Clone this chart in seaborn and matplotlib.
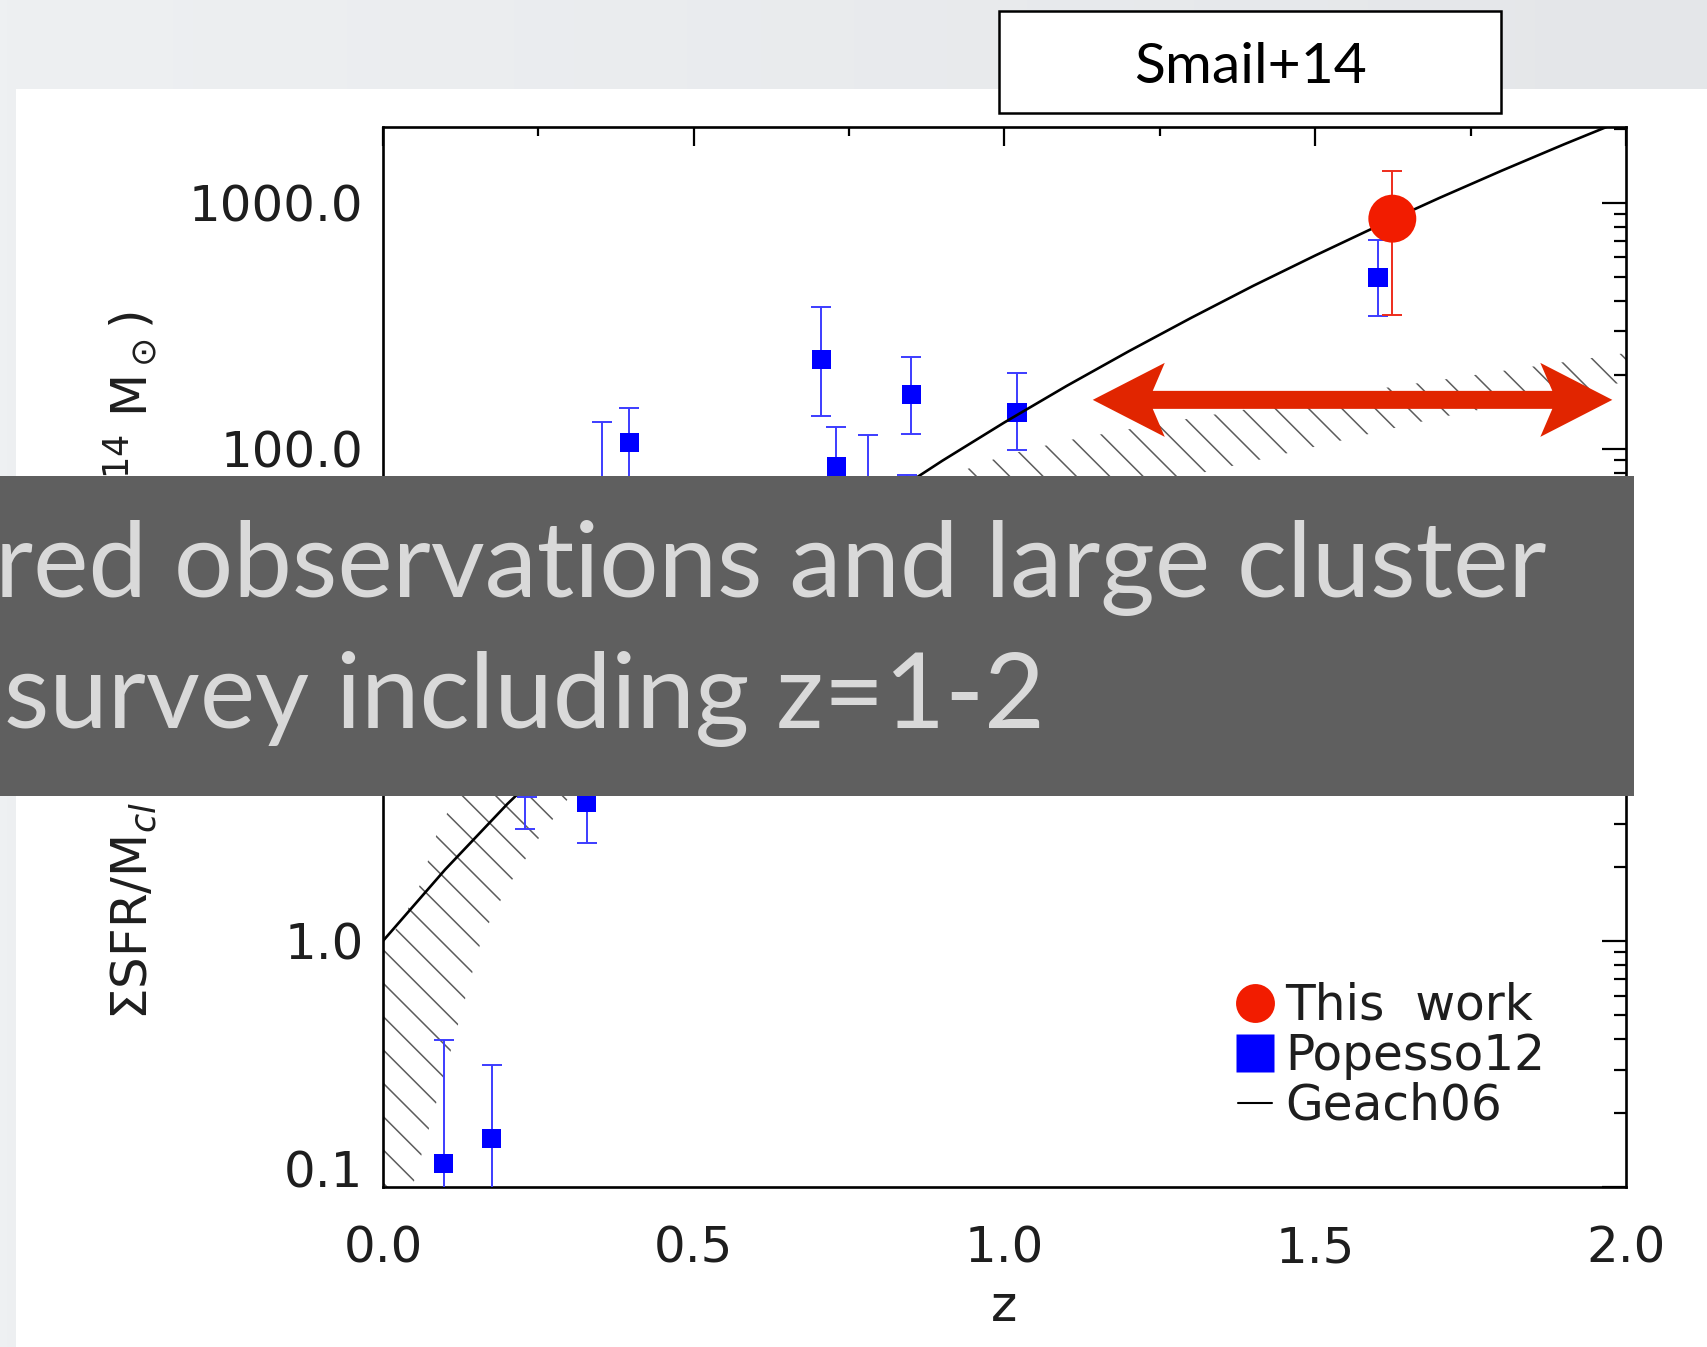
import numpy as np
import pandas as pd
import matplotlib
matplotlib.use("Agg")
import matplotlib.pyplot as plt
import seaborn as sns
from matplotlib.patches import Rectangle, Polygon
from matplotlib.lines import Line2D
from matplotlib.transforms import IdentityTransform
from matplotlib.colors import LinearSegmentedColormap
from matplotlib.ticker import MultipleLocator, LogLocator, NullFormatter

# ---------------- data ----------------
# This work (cluster at z~1.6)
this_z = [1.624]
this_sfr = [861.0]
this_lo = [351.0]
this_hi = [1349.0]

# Popesso12 clusters
pop_z = [0.098, 0.175, 0.228, 0.232, 0.328, 0.352, 0.396, 0.705, 0.729, 0.780, 0.843, 0.850, 1.020, 1.601]
pop_sfr = [0.125, 0.157, 6.0, 9.0, 3.64, 40.0, 106.0, 231.0, 84.5, 55.0, 45.0, 166.0, 140.0, 496.0]
pop_lo = [0.05, 0.05, 2.85, 3.85, 2.50, 15.0, 60.0, 136.0, 50.0, 25.0, 25.0, 115.0, 99.0, 347.0]
pop_hi = [0.396, 0.313, 10.0, 15.0, 5.5, 128.0, 147.0, 378.0, 123.0, 114.0, 78.0, 237.0, 204.0, 707.0]

# Geach06 evolution curve
geach_z = [0.0, 0.1, 0.2, 0.3, 0.4, 0.5, 0.6, 0.7, 0.8, 0.9, 1.0,
           1.1, 1.2, 1.3, 1.4, 1.5, 1.6, 1.7, 1.8, 1.9, 2.0]
geach_sfr = [1.0, 1.95, 3.6, 6.3, 10.5, 17.1, 26.8, 41.0, 61.2, 89.4, 128.0,
             180.0, 249.0, 340.0, 459.0, 610.0, 803.0, 1046.0, 1349.0, 1725.0, 2187.0]

# hatched model band
band_z = [0.0, 0.03, 0.06, 0.09, 0.12, 0.16, 0.2, 0.25, 0.3, 0.4, 0.5, 0.6, 0.7, 0.8, 0.9,
          1.0, 1.1, 1.2, 1.3, 1.4, 1.5, 1.6, 1.7, 1.8, 1.9, 2.0]
band_lo = [0.04, 0.07, 0.13, 0.24, 0.45, 1.05, 1.65, 2.6, 3.85, 6.8, 11.0, 16.6, 24.0, 32.0, 42.0,
           51.0, 60.0, 69.0, 78.0, 89.0, 102.0, 117.0, 134.0, 150.0, 168.0, 187.0]
band_hi = [0.95, 1.2, 1.7, 2.9, 3.9, 5.5, 7.4, 10.0, 12.9, 19.5, 27.5, 36.0, 47.0, 60.0, 76.0,
           94.0, 108.0, 120.0, 133.0, 146.0, 160.0, 175.0, 190.0, 207.0, 225.0, 245.0]

x_ticks = [0.0, 0.5, 1.0, 1.5, 2.0]
x_labels = ["0.0", "0.5", "1.0", "1.5", "2.0"]
y_ticks = [0.1, 1.0, 10.0, 100.0, 1000.0]
y_labels = ["0.1", "1.0", "10.0", "100.0", "1000.0"]

legend_labels = ["This  work", "Popesso12", "Geach06"]
arrow_z = [1.142, 1.978]
arrow_level = 158.0

caption_lines = ["red observations and large cluster", "survey including z=1-2"]

# ---------------- style ----------------
W, H, DPI = 1708, 1347, 100
RED = "#f21c00"
RED_ERR = "#ee2c1c"
BLUE = "#0000ff"
BLUE_ERR = "#3c3cff"
INK = "#1e1e1e"
FS = 36

sns.set_theme(style="white")
plt.rcParams.update({
    "font.family": ["DejaVu Sans"],
    "mathtext.fontset": "dejavusans",
    "hatch.linewidth": 1.1,
    "hatch.color": "#5c5c5c",
    "axes.edgecolor": "black",
    "xtick.color": "black",
    "ytick.color": "black",
})
SLIDE_FONT = ["Lato", "DejaVu Sans"]

fig = plt.figure(figsize=(W / DPI, H / DPI), dpi=DPI)
fig.patch.set_facecolor("#e8eaed")

# slide background with a soft grey gradient
bg = fig.add_axes([0, 0, 1, 1], zorder=-10)
grad = np.linspace(0, 1, 256).reshape(1, -1)
bg.imshow(grad, extent=[0, 1, 0, 1], aspect="auto",
          cmap=LinearSegmentedColormap.from_list("slide", ["#eef0f2", "#e4e6e9"]))
bg.set_axis_off()

# white panel of the figure image
fig.add_artist(Rectangle((16 / W, 0), 1 - 16 / W, 1 - 89 / H, transform=fig.transFigure,
                         facecolor="white", edgecolor="none", zorder=-5))

ax = fig.add_axes([383 / W, 1 - 1187 / H, 1243 / W, 1060 / H])
ax.set_facecolor("white")
ax.set_yscale("log")

# model band
ax.fill_between(band_z, band_lo, band_hi, facecolor="none", edgecolor="#5c5c5c",
                hatch="\\", linewidth=0, zorder=1)

# Popesso12 points
pop_sfr_a = np.array(pop_sfr)
ax.errorbar(pop_z, pop_sfr, yerr=[pop_sfr_a - np.array(pop_lo), np.array(pop_hi) - pop_sfr_a],
            fmt="none", ecolor=BLUE_ERR, elinewidth=1.4, capsize=7, capthick=1.4, zorder=3)
sns.scatterplot(x=pop_z, y=pop_sfr, marker="s", s=190, color=BLUE, edgecolor="none",
                linewidth=0, ax=ax, zorder=4, legend=False)

# Geach06 curve
sns.lineplot(x=geach_z, y=geach_sfr, color="black", linewidth=1.9, ax=ax, zorder=5,
             legend=False, errorbar=None)

# this work
this_sfr_a = np.array(this_sfr)
ax.errorbar(this_z, this_sfr, yerr=[this_sfr_a - np.array(this_lo), np.array(this_hi) - this_sfr_a],
            fmt="none", ecolor=RED_ERR, elinewidth=1.4, capsize=7, capthick=1.4, zorder=6)
sns.scatterplot(x=this_z, y=this_sfr, marker="o", s=1190, color=RED, edgecolor="none",
                linewidth=0, ax=ax, zorder=7, legend=False)

ax.set_xlim(0, 2)
ax.set_ylim(0.1, 2030)

ax.set_xticks(x_ticks, x_labels)
ax.set_yticks(y_ticks, y_labels)
ax.xaxis.set_minor_locator(MultipleLocator(0.25))
ax.yaxis.set_minor_locator(LogLocator(base=10, subs=np.arange(2, 10)))
ax.yaxis.set_minor_formatter(NullFormatter())
ax.tick_params(which="both", direction="in", top=True, right=True, width=1.6)
ax.tick_params(axis="x", which="major", length=14, pad=27, labelsize=FS, labelcolor=INK)
ax.tick_params(axis="x", which="minor", length=6.5)
ax.tick_params(axis="y", which="major", length=17, pad=14, labelsize=FS, labelcolor=INK)
ax.tick_params(axis="y", which="minor", length=8.5)
for sp in ax.spines.values():
    sp.set_linewidth(1.9)
    sp.set_color("black")
ax.get_yticklabels()[0].set_verticalalignment("baseline")

ax.set_xlabel("z", fontsize=FS, color=INK)
ax.xaxis.set_label_coords(0.5, -0.113)
ax.xaxis.label.set_verticalalignment("center")
ax.set_ylabel(r"$\Sigma$SFR/M$_{cl}$ (M$_\odot$ yr$^{-1}$/10$^{14}$ M$_\odot$)",
              fontsize=FS, color=INK)
ax.yaxis.set_label_coords(-0.2027, 0.492)
ax.yaxis.label.set_verticalalignment("center")

LEG_FS = 35
handles = [
    Line2D([0], [0], ls="none", marker="o", ms=28, mfc=RED, mec="none"),
    Line2D([0], [0], ls="none", marker="s", ms=27, mfc=BLUE, mec="none"),
    Line2D([0], [0], color="black", lw=1.5),
]
leg = ax.legend(handles, legend_labels, loc="upper left",
                bbox_to_anchor=(1238 / W, 1 - 982 / H), bbox_transform=fig.transFigure,
                frameon=False, fontsize=LEG_FS, handlelength=0.7, handletextpad=0.27,
                labelspacing=0.04, borderpad=0, borderaxespad=0)
for t in leg.get_texts():
    t.set_color(INK)

# red double-headed arrow over the band
xl, yl = ax.transData.transform((arrow_z[0], arrow_level))
xr, _ = ax.transData.transform((arrow_z[1], arrow_level))
hl, hw, notch, th = 72, 37, 60, 9
verts = [(xl, yl), (xl + hl, yl + hw), (xl + notch, yl + th), (xr - notch, yl + th),
         (xr - hl, yl + hw), (xr, yl), (xr - hl, yl - hw), (xr - notch, yl - th),
         (xl + notch, yl - th), (xl + hl, yl - hw)]
fig.add_artist(Polygon(verts, closed=True, transform=IdentityTransform(),
                       facecolor="#e12500", edgecolor="none", zorder=8))

# reference tag box
fig.add_artist(Rectangle((999 / W, 1 - 113 / H), 502 / W, 102 / H, transform=fig.transFigure,
                         facecolor="white", edgecolor="black", linewidth=1.8, zorder=9))
fig.text(1250 / W, 1 - 83 / H, "Smail+14", ha="center", va="baseline", fontsize=41,
         family=SLIDE_FONT, color="black", zorder=10)

# caption banner
fig.add_artist(Rectangle((0, 1 - 796 / H), 1634 / W, 320 / H, transform=fig.transFigure,
                         facecolor="#5f5f5f", edgecolor="none", zorder=11))
cap1 = fig.text(1547 / W, 1 - 597 / H, caption_lines[0], ha="right", va="baseline",
                fontsize=76, family=SLIDE_FONT, fontweight="normal", color="#d9d9d9", zorder=12)
cap2 = fig.text(4 / W, 1 - 728 / H, caption_lines[1], ha="left", va="baseline",
                fontsize=76, family=SLIDE_FONT, fontweight="normal", color="#d9d9d9", zorder=12)
# size the caption so that the second line spans its slide width
renderer = fig.canvas.get_renderer()
w2 = cap2.get_window_extent(renderer).width
cap_fs = 76 * 1040.0 / w2
cap1.set_fontsize(cap_fs)
cap2.set_fontsize(cap_fs)

fig.savefig("out.png", dpi=DPI)
